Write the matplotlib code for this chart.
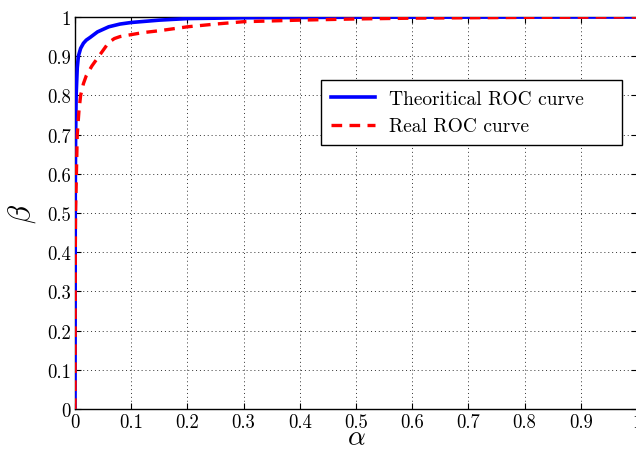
import matplotlib
matplotlib.use("Agg")
import matplotlib.pyplot as plt
import numpy as np

# Data
theo_alpha = [0, 0.0005, 0.001, 0.002, 0.004, 0.006, 0.01, 0.015, 0.02, 0.027, 0.04, 0.06, 0.08, 0.1, 0.15, 0.2, 0.3, 0.5, 1.0]
theo_beta = [0, 0.55, 0.68, 0.80, 0.87, 0.90, 0.92, 0.933, 0.941, 0.948, 0.962, 0.975, 0.982, 0.986, 0.992, 0.996, 0.998, 0.9995, 1.0]

real_alpha = [0, 0.0005, 0.001, 0.0025, 0.004, 0.007, 0.01, 0.015, 0.02, 0.03, 0.04, 0.05, 0.06, 0.07, 0.08, 0.1, 0.12, 0.15, 0.2, 0.25, 0.3, 0.4, 0.5, 0.6, 0.8, 1.0]
real_beta = [0, 0.40, 0.50, 0.60, 0.70, 0.76, 0.80, 0.83, 0.85, 0.875, 0.895, 0.915, 0.935, 0.945, 0.95, 0.955, 0.96, 0.965, 0.975, 0.982, 0.988, 0.992, 0.995, 0.997, 0.999, 1.0]

ticks = [0, 0.1, 0.2, 0.3, 0.4, 0.5, 0.6, 0.7, 0.8, 0.9, 1]
tick_labels = ["0", "0.1", "0.2", "0.3", "0.4", "0.5", "0.6", "0.7", "0.8", "0.9", "1"]

plt.rcParams['font.family'] = ['cmr10', 'DejaVu Serif']
plt.rcParams['mathtext.fontset'] = 'cm'
plt.rcParams['axes.unicode_minus'] = False

fig = plt.figure(figsize=(6.36, 4.52), dpi=100)
ax = fig.add_axes([75/636, 42/452, 562/636, 392/452])

ax.plot(theo_alpha, theo_beta, color='#0000ff', lw=2.6, label='Theoritical ROC curve', zorder=3)
ax.plot(real_alpha, real_beta, color='#ff0000', lw=2.4, ls=(0, (3.2, 2.2)), label='Real ROC curve', zorder=4)

ax.set_xlim(0, 1)
ax.set_ylim(0, 1)
ax.set_xticks(ticks)
ax.set_xticklabels(tick_labels)
ax.set_yticks(ticks)
ax.set_yticklabels(tick_labels)
ax.tick_params(direction='in', top=True, right=True, labelsize=13.5, length=4, width=0.8, pad=3)
ax.grid(True, ls=(0, (1, 3)), color='#333333', lw=0.7)
for s in ax.spines.values():
    s.set_linewidth(1.0)

ax.set_xlabel(r'$\alpha$', fontsize=20, labelpad=-5)
ax.set_ylabel(r'$\beta$', fontsize=22, labelpad=6)

leg = ax.legend(loc='upper left', bbox_to_anchor=(0.4377, 0.739, 0.5356, 0.1), mode='expand',
                fontsize=14, frameon=True, fancybox=False, framealpha=1, edgecolor='black',
                handlelength=2.3, borderpad=0.5, labelspacing=0.5, handletextpad=0.7,
                borderaxespad=0)
leg.get_frame().set_linewidth(1.0)

fig.savefig('out.png', dpi=100)
